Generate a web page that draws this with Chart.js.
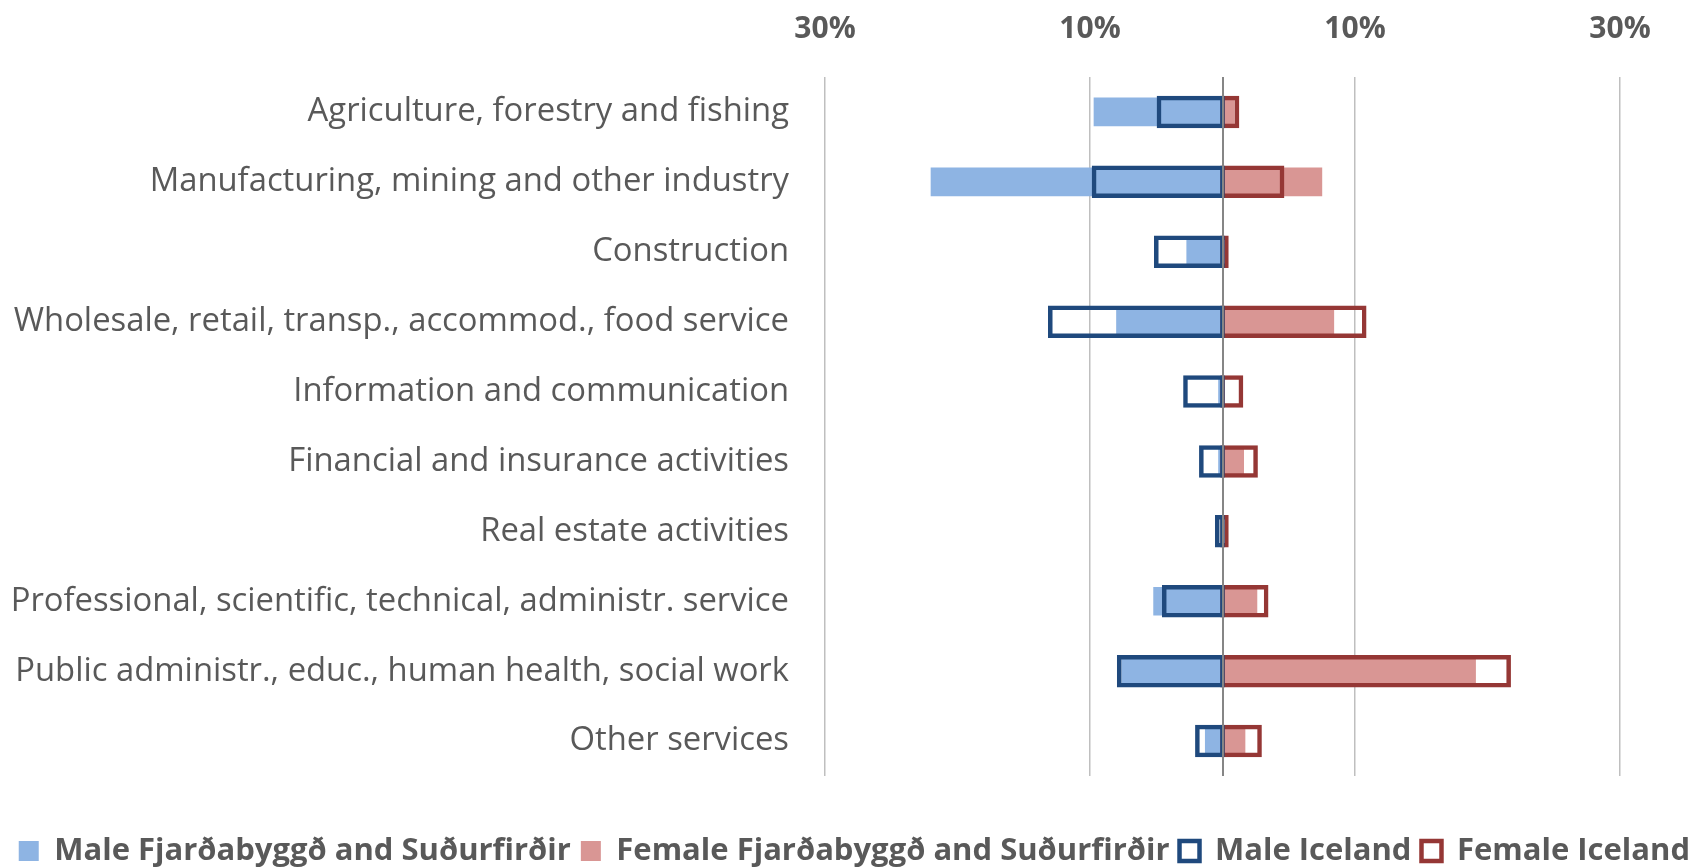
<!DOCTYPE html>
<html>
<head>
<meta charset="utf-8">
<script src="https://cdn.jsdelivr.net/npm/chart.js@4"></script>
<style>
  html, body { margin: 0; padding: 0; background: #ffffff; }
  #wrap { width: 1700px; height: 868px; }
</style>
</head>
<body>
<div id="wrap"><canvas id="c" width="1700" height="868"></canvas></div>
<script>
// Categories (top to bottom)
const categories = [
  "Agriculture, forestry and fishing",
  "Manufacturing, mining and other industry",
  "Construction",
  "Wholesale, retail, transp., accommod., food service",
  "Information and communication",
  "Financial and insurance activities",
  "Real estate activities",
  "Professional, scientific, technical, administr. service",
  "Public administr., educ., human health, social work",
  "Other services"
];

// Share of employed, %
const maleLocal     = [9.7, 22.0, 2.7, 8.0, 0.3, 0.3, 0.1, 5.2, 7.6, 1.3];
const femaleLocal   = [0.9, 7.5, 0.2, 8.4, 0.1, 1.6, 0.1, 2.6, 19.1, 1.7];
const maleIceland   = [4.8, 9.7, 5.0, 13.0, 2.8, 1.6, 0.4, 4.4, 7.8, 1.9];
const femaleIceland = [1.1, 4.5, 0.3, 10.7, 1.4, 2.5, 0.3, 3.3, 21.6, 2.8];

// Axis tick values
const tickValues = [-30, -10, 10, 30];
const zeroLine = [0];

const seriesNames = [
  "Male Fjarðabyggð and Suðurfirðir",
  "Female Fjarðabyggð and Suðurfirðir",
  "Male Iceland",
  "Female Iceland"
];

const GREY = '#595959';

new Chart(document.getElementById('c'), {
  type: 'bar',
  data: {
    labels: categories,
    datasets: [
      {
        label: seriesNames[0],
        data: maleLocal.map(v => -v),
        backgroundColor: '#8EB4E3',
        borderWidth: 0,
        barThickness: 28,
        grouped: false,
        order: 2
      },
      {
        label: seriesNames[1],
        data: femaleLocal,
        backgroundColor: '#D99694',
        borderWidth: 0,
        barThickness: 28,
        grouped: false,
        order: 2
      },
      {
        label: seriesNames[2],
        data: maleIceland.map(v => -v),
        backgroundColor: 'rgba(255,255,255,0)',
        borderColor: '#1F497D',
        borderWidth: 0.01,
        borderSkipped: false,
        barThickness: 28,
        inflateAmount: 2.25,
        grouped: false,
        order: 1
      },
      {
        label: seriesNames[3],
        data: femaleIceland,
        backgroundColor: 'rgba(255,255,255,0)',
        borderColor: '#953735',
        borderWidth: 0.01,
        borderSkipped: false,
        barThickness: 28,
        inflateAmount: 2.25,
        grouped: false,
        order: 1
      }
    ]
  },
  options: {
    indexAxis: 'y',
    responsive: false,
    animation: false,
    devicePixelRatio: 1,
    layout: { padding: { left: 0, right: 0, top: 0, bottom: -8.5 } },
    scales: {
      x: {
        type: 'linear',
        position: 'top',
        min: -30,
        max: 30,
        afterBuildTicks: (s) => { s.ticks = tickValues.map(v => ({ value: v })); },
        afterFit: (s) => { s.height = 77; },
        border: { display: false },
        grid: {
          drawTicks: false,
          color: '#BFBFBF',
          lineWidth: 1.5
        },
        ticks: {
          padding: 30,
          color: GREY,
          font: { family: 'Open Sans', size: 30, weight: 'bold' },
          callback: (v) => Math.abs(v) + '%'
        }
      },
      xZero: {
        type: 'linear',
        position: 'top',
        axis: 'x',
        min: -30,
        max: 30,
        afterBuildTicks: (s) => { s.ticks = zeroLine.map(v => ({ value: v })); },
        afterFit: (s) => { s.height = 0; },
        border: { display: false },
        grid: { drawTicks: false, color: '#868686', lineWidth: 2, z: 1 },
        ticks: { display: false }
      },
      y: {
        type: 'category',
        position: 'left',
        afterFit: (s) => { s.width = 825; },
        border: { display: false },
        grid: { display: false, drawTicks: false },
        ticks: {
          padding: 36,
          color: GREY,
          font: { family: 'Open Sans', size: 32.8 }
        }
      },
      yRight: {
        type: 'category',
        position: 'right',
        display: true,
        afterFit: (s) => { s.width = 80; },
        border: { display: false },
        grid: { display: false, drawTicks: false },
        ticks: { display: false }
      }
    },
    plugins: {
      tooltip: { enabled: false },
      legend: {
        position: 'bottom',
        align: 'end',
        title: { display: true, text: '', font: { size: 1 }, padding: { top: 48.3, bottom: 0 } },
        labels: {
          boxWidth: 20,
          boxHeight: 20,
          padding: 10,
          color: GREY,
          font: { family: 'Open Sans', size: 31, weight: 'bold' },
          sort: (a, b) => a.datasetIndex - b.datasetIndex,
          generateLabels: (chart) => {
            const items = Chart.defaults.plugins.legend.labels.generateLabels(chart);
            items.forEach(it => { it.lineWidth = it.datasetIndex >= 2 ? 4.5 : 0; });
            return items;
          }
        }
      }
    }
  }
});
</script>
</body>
</html>
